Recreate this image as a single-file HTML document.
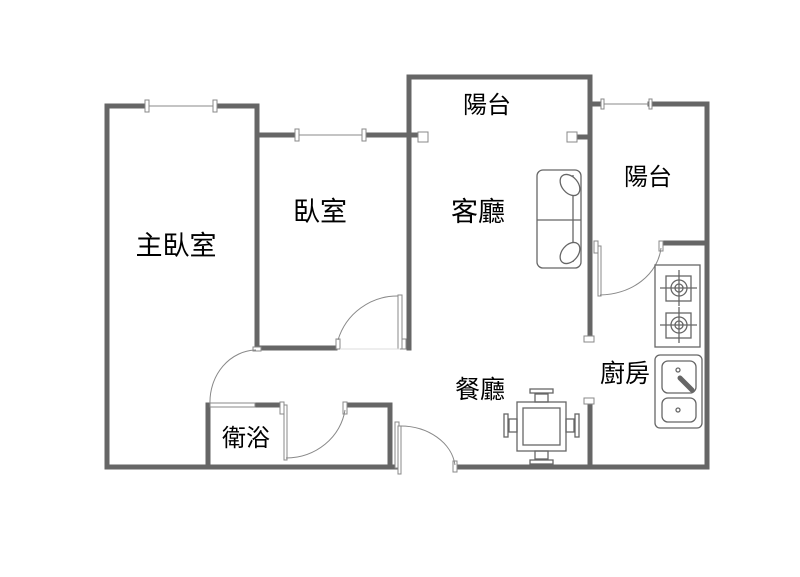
<!DOCTYPE html>
<html><head><meta charset="utf-8"><style>
html,body{margin:0;padding:0;background:#fff;width:800px;height:577px;overflow:hidden}
text{font-family:"Liberation Sans","Noto Sans CJK TC",sans-serif;font-size:24px;fill:#000;text-anchor:middle}
</style></head><body>
<svg width="800" height="577" viewBox="0 0 800 577" xmlns="http://www.w3.org/2000/svg">
<g stroke="#666" stroke-width="5" fill="none" stroke-linecap="square">
<polyline points="147,106 107,106 107,467 395,467"/>
<polyline points="215,106 257,106 257,348 335,348"/>
<line x1="257" y1="135" x2="297" y2="135"/>
<line x1="364" y1="135" x2="418" y2="135"/>
<polyline points="409,348 409,77 590,77 590,336"/>
<line x1="580" y1="137" x2="590" y2="137"/>
<line x1="590" y1="404" x2="590" y2="467"/>
<polyline points="650,104 707,104 707,467 455,467"/>
<line x1="590" y1="104" x2="600" y2="104"/>
<line x1="663" y1="243" x2="707" y2="243"/>
<polyline points="208,467 208,405 255,405"/>
<line x1="260" y1="405" x2="280" y2="405"/>
<polyline points="345,405 390,405 390,467"/>
</g>
<g stroke="#888" stroke-width="1" fill="#fff">
<line x1="147" y1="106" x2="215" y2="106"/>
<rect x="145" y="100" width="4" height="12"/><rect x="213" y="100" width="4" height="12"/>
<line x1="297" y1="135" x2="364" y2="135"/>
<rect x="295" y="129" width="4" height="12"/><rect x="362" y="129" width="4" height="12"/>
<line x1="600" y1="104" x2="650" y2="104"/>
<rect x="601" y="99" width="3" height="10"/><rect x="649" y="99" width="3" height="10"/>
<rect x="418" y="132" width="10" height="10"/><rect x="567" y="132" width="10" height="10"/>
<rect x="584" y="336" width="10" height="6"/><rect x="584" y="398" width="10" height="6"/>
<rect x="398" y="295" width="4" height="54"/><rect x="402" y="339" width="4" height="10"/>
<rect x="336" y="339" width="4" height="10"/>
<path d="M338,340 A62,62 0 0 1 398,296" fill="none"/>
<line x1="340" y1="349" x2="400" y2="349" stroke="#ddd"/>
<rect x="253" y="347" width="8" height="4"/>
<rect x="210" y="403" width="45" height="4"/>
<path d="M210,404 A47,52 0 0 1 256,350" fill="none"/>
<rect x="280" y="402" width="4" height="12"/><rect x="284" y="405" width="3" height="55"/>
<rect x="343" y="402" width="4" height="12"/>
<path d="M286,458 A60,56 0 0 0 345,410" fill="none"/>
<rect x="395" y="422" width="4" height="46"/><rect x="398" y="426" width="3" height="48"/>
<rect x="453" y="461" width="4" height="11"/>
<path d="M400,426 A55,44 0 0 1 455,465" fill="none"/>
<rect x="594" y="241" width="4" height="12"/><rect x="598" y="246" width="3" height="50"/>
<rect x="659" y="241" width="4" height="10"/>
<path d="M600,295 A62,52 0 0 0 661,248" fill="none"/>
</g>
<g stroke="#666" stroke-width="1.3" fill="#fff">
<rect x="537" y="170" width="44" height="98" rx="6"/>
<line x1="537" y1="220" x2="581" y2="220"/>
<line x1="573" y1="175" x2="573" y2="262"/>
<ellipse cx="570" cy="185" rx="8" ry="12" transform="rotate(-40 570 185)"/>
<ellipse cx="570" cy="253" rx="8" ry="12" transform="rotate(40 570 253)"/>
</g>
<g stroke="#666" stroke-width="1.3" fill="none">
<rect x="655" y="265" width="45" height="82"/>
<rect x="666" y="276" width="25" height="25"/><circle cx="679" cy="288" r="8"/><circle cx="679" cy="288" r="4"/>
<line x1="660" y1="288" x2="697" y2="288"/><line x1="679" y1="270" x2="679" y2="306"/>
<rect x="666" y="313" width="25" height="25"/><circle cx="679" cy="325" r="8"/><circle cx="679" cy="325" r="4"/>
<line x1="660" y1="325" x2="697" y2="325"/><line x1="679" y1="307" x2="679" y2="343"/>
<rect x="655" y="355" width="47" height="73" rx="5"/>
<rect x="662" y="361" width="34" height="32" rx="6"/>
<rect x="662" y="398" width="34" height="24" rx="6"/>
<circle cx="678" cy="370" r="2"/><circle cx="678" cy="410" r="2"/>
<line x1="680" y1="378" x2="692" y2="390" stroke-width="5" stroke-linecap="round"/>
<rect x="517" y="402" width="49" height="49"/>
<rect x="523" y="408" width="37" height="37"/>
<rect x="535" y="394" width="13" height="8"/><rect x="530" y="389" width="23" height="4"/>
<rect x="535" y="451" width="13" height="8"/><rect x="530" y="460" width="23" height="4"/>
<rect x="509" y="419" width="8" height="13"/><rect x="504" y="414" width="4" height="23"/>
<rect x="566" y="419" width="8" height="13"/><rect x="575" y="414" width="4" height="23"/>
</g>
<text x="487" y="113" style="font-size:24px">陽台</text>
<text x="648" y="185" style="font-size:24px">陽台</text>
<text x="478" y="221" style="font-size:27px">客廳</text>
<text x="320" y="221" style="font-size:27px">臥室</text>
<text x="176" y="255" style="font-size:27px">主臥室</text>
<text x="480" y="398" style="font-size:25px">餐廳</text>
<text x="625" y="382" style="font-size:25px">廚房</text>
<text x="246" y="446" style="font-size:24px">衛浴</text>
</svg>
</body></html>
